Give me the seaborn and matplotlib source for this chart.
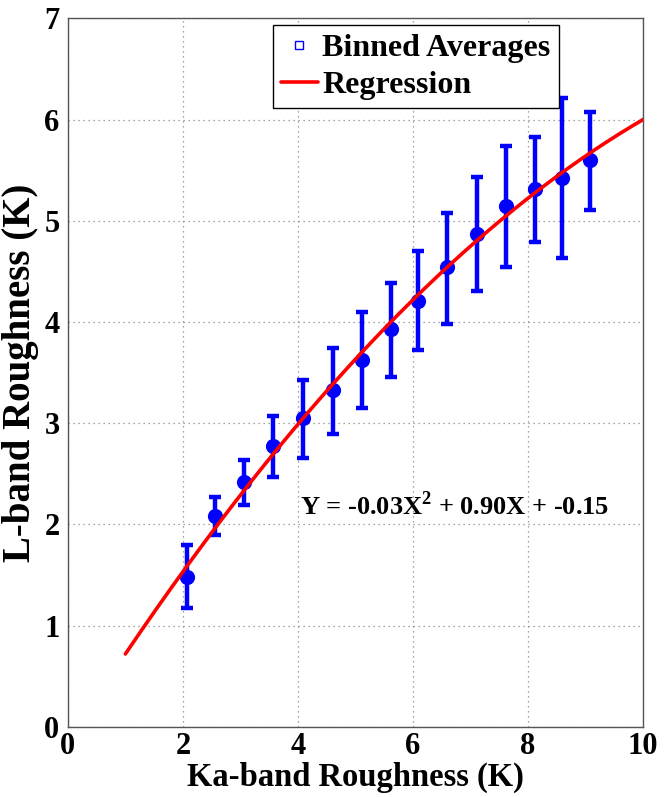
import numpy as np
import pandas as pd
import matplotlib
matplotlib.use("Agg")
import matplotlib.pyplot as plt
import seaborn as sns
from matplotlib.lines import Line2D

# Binned averages
ka_bins = [2.07, 2.56, 3.06, 3.57, 4.09, 4.61, 5.11, 5.62, 6.09, 6.59, 7.11, 7.62, 8.12, 8.59, 9.08]
l_mean = [1.48, 2.08, 2.42, 2.77, 3.05, 3.33, 3.62, 3.93, 4.21, 4.54, 4.87, 5.15, 5.31, 5.42, 5.60]
l_upper = [1.80, 2.27, 2.64, 3.07, 3.43, 3.74, 4.10, 4.39, 4.70, 5.08, 5.43, 5.74, 5.83, 6.21, 6.07]
l_lower = [1.17, 1.90, 2.19, 2.47, 2.66, 2.89, 3.15, 3.46, 3.72, 3.98, 4.31, 4.54, 4.79, 4.63, 5.11]

# Regression coefficients (quadratic), curve range
reg_coef = [-0.0283, 0.898, -0.15]
reg_range = [1.0, 10.0]

x_ticks = [0, 2, 4, 6, 8, 10]
y_ticks = [0, 1, 2, 3, 4, 5, 6, 7]

sns.set_style("white")
plt.rcParams['font.family'] = ['Liberation Serif', 'DejaVu Serif']
plt.rcParams['font.weight'] = 'bold'
plt.rcParams['text.color'] = 'black'
plt.rcParams['mathtext.fontset'] = 'custom'
plt.rcParams['mathtext.rm'] = 'Liberation Serif:bold'
plt.rcParams['mathtext.bf'] = 'Liberation Serif:bold'

fig = plt.figure(figsize=(6.65, 7.97), dpi=100)
ax = fig.add_axes([0.102, 0.088, 0.865, 0.889])

df = pd.DataFrame({"ka": ka_bins, "l": l_mean})
yerr = np.array([np.array(l_mean) - np.array(l_lower), np.array(l_upper) - np.array(l_mean)])

ax.errorbar(df["ka"], df["l"], yerr=yerr, fmt='none', ecolor='#0000ff',
            elinewidth=3.2, capsize=4.5, capthick=3.2, zorder=2)
sns.scatterplot(data=df, x="ka", y="l", ax=ax, color='#0000ff', s=120,
                edgecolor='#0000ff', linewidth=0, zorder=3, legend=False)

xr = np.linspace(reg_range[0], reg_range[1], 200)
reg_df = pd.DataFrame({"x": xr, "y": np.polyval(reg_coef, xr)})
sns.lineplot(data=reg_df, x="x", y="y", ax=ax, color='#ff0000', linewidth=2.6, zorder=4)

ax.set_xlim(0, 10)
ax.set_ylim(0, 7)
ax.set_xticks(x_ticks)
ax.set_yticks(y_ticks)
ax.set_xticklabels([str(t) for t in x_ticks], fontsize=22, fontweight='bold', color='black')
ax.set_yticklabels([str(t) for t in y_ticks], fontsize=22, fontweight='bold', color='black')
ax.tick_params(axis='x', direction='in', length=5, color='#555555', pad=4)
ax.tick_params(axis='y', direction='in', length=5, color='#555555', pad=6)
ax.grid(True, linestyle=(0, (1, 3)), color='#888888', linewidth=0.9)
for s in ax.spines.values():
    s.set_color('#555555')
    s.set_linewidth(1.0)

ax.set_xlabel("Ka-band Roughness (K)", fontsize=23.5, fontweight='bold', labelpad=0, color='black')
ax.set_ylabel("L-band Roughness (K)", fontsize=28, fontweight='bold', labelpad=4, color='black')

ax.text(4.03, 2.19, r"Y = -0.03X$^{2}$ + 0.90X + -0.15", fontsize=19, fontweight='bold',
        ha='left', va='center', color='black')

handles = [Line2D([0], [0], marker='s', linestyle='none', markerfacecolor='none',
                  markeredgecolor='#0000ff', markersize=6, markeredgewidth=1),
           Line2D([0], [0], color='#ff0000', linewidth=2.6)]
leg = ax.legend(handles, ["Binned Averages", "Regression"], loc='upper center',
                bbox_to_anchor=(0.605, 0.99), fontsize=23, frameon=True, fancybox=False,
                borderpad=0.25, handlelength=1.15, handletextpad=0.15, labelspacing=0.25,
                borderaxespad=0.0)
leg.get_frame().set_edgecolor('black')
leg.get_frame().set_linewidth(1.0)
leg.get_frame().set_alpha(1)
for t in leg.get_texts():
    t.set_fontweight('bold')
    t.set_color('black')

fig.savefig("out.png", dpi=100)
